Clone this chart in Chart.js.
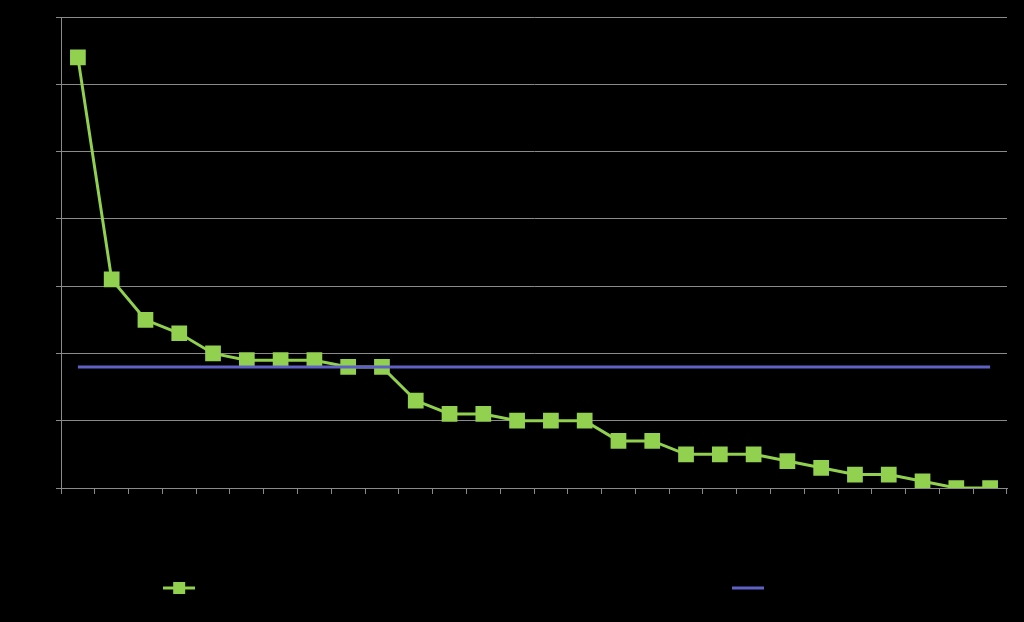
<!DOCTYPE html>
<html>
<head>
<meta charset="utf-8">
<script src="https://cdn.jsdelivr.net/npm/chart.js@4"></script>
<style>
    html, body {
        margin: 0;
        padding: 0;
        background: #000000;
    }
    #wrap {
        width: 1024px;
        height: 622px;
    }
</style>
</head>
<body>
<div id="wrap"><canvas id="lineChart"></canvas></div>
<script>

/* =========================
   DATA
========================= */

const categories = [
    "1", "2", "3", "4", "5", "6", "7", "8", "9", "10",
    "11", "12", "13", "14", "15", "16", "17", "18", "19", "20",
    "21", "22", "23", "24", "25", "26", "27", "28"
];

const countValues = [
    64, 31, 25, 23, 20, 19, 19, 19, 18, 18,
    13, 11, 11, 10, 10, 10, 7, 7, 5, 5,
    5, 4, 3, 2, 2, 1, 0, 0
];

const averageValue = 18;

const yTicks = [0, 10, 20, 30, 40, 50, 60, 70];

const seriesNames = ["Number of occurrences per category, sorted in descending order of frequency (total)", "Mean value"];

/* =========================
   LEGEND ICONS
========================= */

function makeIcon(color, withSquare) {

    const c = document.createElement("canvas");
    c.width = 32;
    c.height = 14;
    const g = c.getContext("2d");

    g.strokeStyle = color;
    g.lineWidth = 3;
    g.beginPath();
    g.moveTo(0, 7);
    g.lineTo(32, 7);
    g.stroke();

    if (withSquare) {
        g.fillStyle = color;
        g.fillRect(10, 1, 12, 12);
    }

    return c;
}

const green = "#92D050";
const blue = "#5F62C4";

/* =========================
   CHART
========================= */

const ctx = document.getElementById("lineChart");

new Chart(ctx, {

    type: "line",

    data: {

        labels: categories,

        datasets: [
            {
                label: seriesNames[0],
                data: countValues,
                borderColor: green,
                backgroundColor: green,
                borderWidth: 3,
                pointStyle: "rect",
                pointRadius: 9,
                pointHoverRadius: 9,
                tension: 0,
                order: 2
            },
            {
                label: seriesNames[1],
                data: categories.map(() => averageValue),
                borderColor: blue,
                backgroundColor: blue,
                borderWidth: 3,
                pointRadius: 0,
                tension: 0,
                order: 1
            }
        ]

    },

    options: {

        responsive: true,
        maintainAspectRatio: false,
        animation: false,

        layout: {
            padding: { top: 17, right: 17, bottom: 17, left: 0 }
        },

        scales: {

            x: {
                offset: true,
                grid: {
                    display: true,
                    offset: true,
                    drawOnChartArea: false,
                    color: "#8a8a8a",
                    tickLength: 6
                },
                border: { color: "#8a8a8a", width: 1 },
                ticks: { color: "#000000", maxRotation: 0, autoSkip: false, font: { size: 11 } },
                afterFit: scale => { scale.height = 83; }
            },

            y: {
                min: 0,
                max: 70,
                afterBuildTicks: scale => {
                    scale.ticks = yTicks.map(v => ({ value: v }));
                },
                grid: {
                    color: "#8a8a8a",
                    tickLength: 5
                },
                border: { color: "#8a8a8a", width: 1 },
                ticks: { color: "#000000", font: { size: 11 } },
                afterFit: scale => { scale.width = 61; }
            }

        },

        plugins: {

            legend: {
                position: "bottom",
                labels: {
                    color: "#000000",
                    usePointStyle: true,
                    pointStyleWidth: 32,
                    padding: 10,
                    font: { size: 14, family: "Liberation Sans" },
                    sort: (a, b) => a.datasetIndex - b.datasetIndex,
                    generateLabels: chart => chart.data.datasets.map((ds, i) => ({
                        text: ds.label,
                        fontColor: "#000000",
                        pointStyle: makeIcon(ds.borderColor, i === 0),
                        datasetIndex: i,
                        lineWidth: 0,
                        strokeStyle: "transparent",
                        fillStyle: ds.borderColor
                    }))
                }
            },

            tooltip: { enabled: false }

        }

    }

});

</script>
</body>
</html>
